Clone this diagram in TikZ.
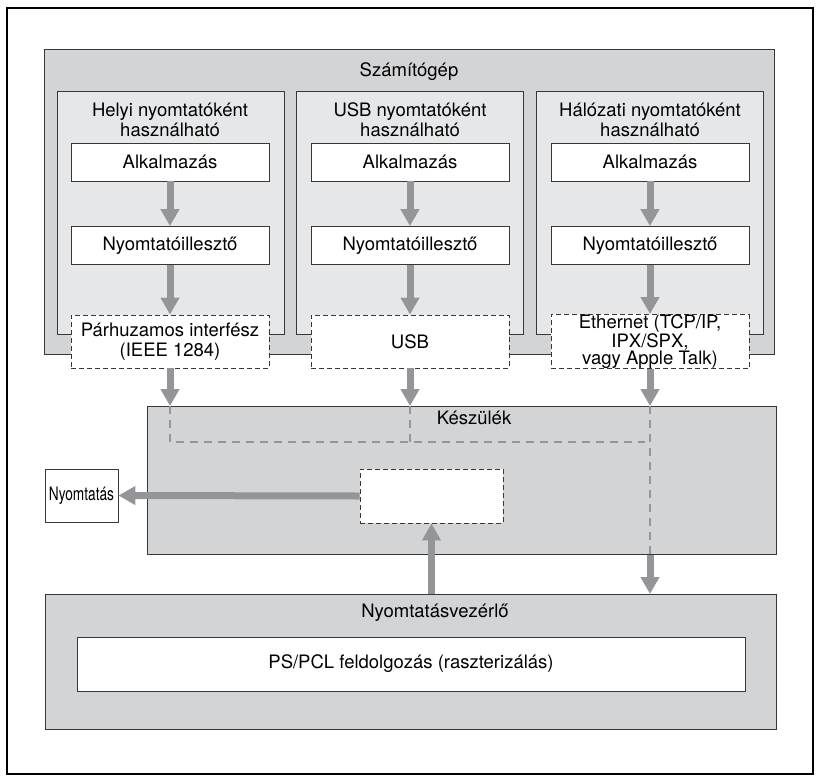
\documentclass[tikz,border=0pt]{standalone}
\usepackage{fontspec}
\setmainfont{TeX Gyre Heros}
\usetikzlibrary{arrows.meta}
\definecolor{gA}{RGB}{211,212,214}
\definecolor{gB}{RGB}{230,231,232}
\definecolor{gArr}{RGB}{147,149,152}
\definecolor{edgec}{RGB}{55,55,55}
\begin{document}
\begin{tikzpicture}[x=1pt,y=-1pt,
  font=\fontsize{18.5}{20}\selectfont,
  area/.style={draw=edgec, line width=0.9pt, inner sep=0pt, anchor=north west},
  swbox/.style={draw=edgec, line width=0.9pt, fill=white, minimum width=198pt, minimum height=38pt, inner sep=0pt},
  ifbox/.style={draw=edgec, line width=0.9pt, dashed, dash pattern=on 5pt off 3pt, fill=white, minimum width=198pt, minimum height=53pt, inner sep=0pt, align=center},
  flow/.style={draw=gArr, line width=7pt, -{Triangle[length=17pt,width=18pt]}},
  bus/.style={draw=gArr, line width=2pt, dash pattern=on 8pt off 6pt},
  lbl/.style={inner sep=0pt, align=center}]
\useasboundingbox (0,0) rectangle (817,780);
\node[draw=black, line width=2pt, anchor=north west, minimum width=806pt, minimum height=766pt, inner sep=0pt] (frame) at (6,7) {};

% Computer
\node[area, fill=gA, minimum width=730pt, minimum height=305pt] (pc) at (44,49) {};
\node[lbl] (pct) at (409,72) {Számítógép};
\node[area, fill=gB, minimum width=227pt, minimum height=243pt] (c1) at (57,91) {};
\node[area, fill=gB, minimum width=227pt, minimum height=243pt] (c2) at (296,91) {};
\node[area, fill=gB, minimum width=227pt, minimum height=243pt] (c3) at (536,91) {};
\node[lbl] (h1) at (170,120) {Helyi nyomtatóként\\használható};
\node[lbl] (h2) at (410,120) {USB nyomtatóként\\használható};
\node[lbl] (h3) at (650,120) {Hálózati nyomtatóként\\használható};

\node[swbox] (a1) at (170,162) {Alkalmazás};
\node[swbox] (a2) at (410,162) {Alkalmazás};
\node[swbox] (a3) at (650,162) {Alkalmazás};
\node[swbox] (d1) at (170,245.5) {Nyomtatóillesztő};
\node[swbox] (d2) at (410,245.5) {Nyomtatóillesztő};
\node[swbox] (d3) at (650,245.5) {Nyomtatóillesztő};
\node[ifbox] (i1) at (170,341.5) {Párhuzamos interfész\\(IEEE 1284)};
\node[ifbox] (i2) at (410,341.5) {USB};
\node[ifbox, font=\fontsize{18.5}{17.5}\selectfont] (i3) at (650,341.5) {Ethernet (TCP/IP,\\IPX/SPX,\\vagy Apple Talk)};

\foreach \k in {1,2,3}{
  \draw[flow] (a\k.south) -- (d\k.north);
  \draw[flow] (d\k.south) -- (i\k.north);
}

% Device
\node[area, fill=gA, minimum width=629pt, minimum height=148pt] (dev) at (147,406) {};
\node[lbl] (devt) at (474,418) {Készülék};
\node[draw=edgec, line width=0.9pt, dashed, dash pattern=on 5pt off 3pt, fill=white, minimum width=143pt, minimum height=54pt, inner sep=0pt] (eng) at (431.5,496) {};
\node[draw=edgec, line width=0.9pt, fill=white, minimum width=73pt, minimum height=53pt, inner sep=0pt] (out) at (81.5,495.5) {\scalebox{0.74}[1]{Nyomtatás}};

\coordinate (p1) at (i1.south |- dev.north);
\coordinate (p2) at (i2.south |- dev.north);
\coordinate (p3) at (i3.south |- dev.north);
\coordinate (q1) at (170,442);
\coordinate (q2) at (410,442);
\coordinate (q3) at (645,442);
\coordinate (p3b) at (i3.south |- dev.south);

\draw[bus] (p1) -- (q1) -- (q3);
\draw[bus] (p2) -- (q2);
\draw[bus] (p3) -- (p3b);

\foreach \k in {1,2,3}{
  \draw[flow] (i\k.south) -- (p\k);
}

% Controller
\node[area, fill=gA, minimum width=731pt, minimum height=135pt] (ctl) at (45,594) {};
\node[lbl] (ctlt) at (435,613) {Nyomtatásvezérlő};
\node[draw=edgec, line width=0.9pt, fill=white, minimum width=668pt, minimum height=54pt, inner sep=0pt] (ps) at (411,664) {PS/PCL feldolgozás (raszterizálás)};

\coordinate (u1) at (eng.south |- ctl.north);
\coordinate (u3) at (p3 |- ctl.north);
\draw[flow] (u1) -- (eng.south);
\draw[flow] (p3b) -- (u3);
\draw[flow] (eng.west) -- (out.east);
\end{tikzpicture}
\end{document}
